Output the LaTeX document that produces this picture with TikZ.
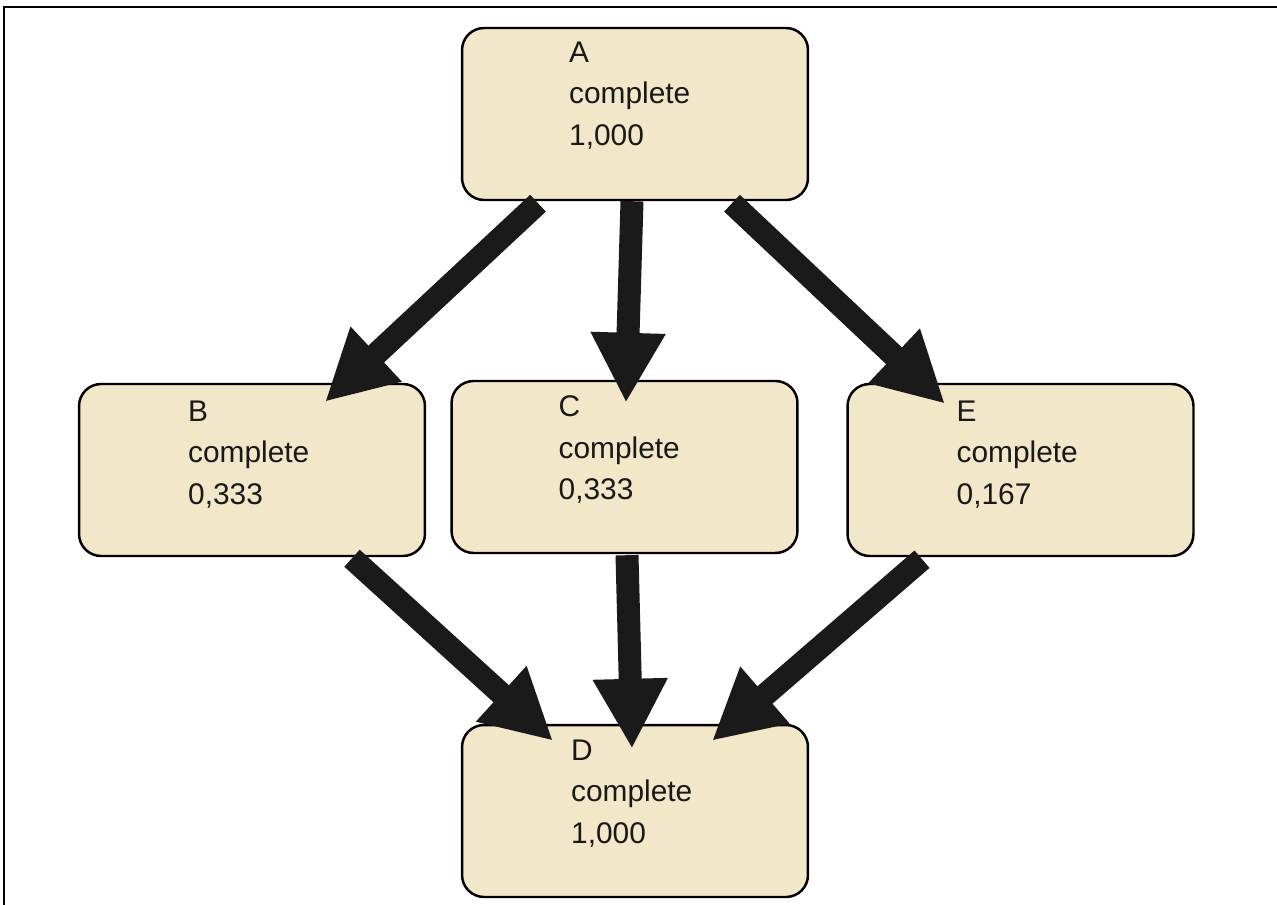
\documentclass[tikz,border=0pt]{standalone}
\usepackage{fontspec}
\setmainfont{Liberation Sans}
\usetikzlibrary{arrows.meta,calc}
\definecolor{boxfill}{RGB}{243,231,201}
\definecolor{flowink}{RGB}{26,26,26}
\tikzset{
  task/.style={draw=black, line width=1.4pt, fill=boxfill, rounded corners=0.44cm,
    minimum width=6.92cm, minimum height=3.44cm, inner sep=0pt},
  tasklabel/.style={anchor=north west, inner sep=0pt, align=left,
    font=\fontsize{17pt}{23.5pt}\selectfont, text=black!90},
  flow/.style={draw=flowink, line width=0.46cm, line cap=butt,
    -{Triangle[width=1.4cm,length=1.4cm]}},
}
\begin{document}
\begin{tikzpicture}[x=0.02cm, y=-0.02cm]
  \useasboundingbox (0,0) rectangle (1277,905);
  % outer frame (top and left edges)
  \draw[line width=1.7pt] (4,905) -- (4,7) -- (1277,7);

  % activity boxes
  \node[task] (A) at (635,114) {};
  \node[task] (B) at (252,470) {};
  \node[task] (C) at (624.5,467) {};
  \node[task] (E) at (1020.5,470) {};
  \node[task] (D) at (635,811) {};

  % box texts
  \node[tasklabel] (At) at ($(A.north west)+(108,15)$) {A\\complete\\1,000};
  \node[tasklabel] (Bt) at ($(B.north west)+(110,18)$) {B\\complete\\0,333};
  \node[tasklabel] (Ct) at ($(C.north west)+(108,16)$) {C\\complete\\0,333};
  \node[tasklabel] (Et) at ($(E.north west)+(110,18)$) {E\\complete\\0,167};
  \node[tasklabel] (Dt) at ($(D.north west)+(110,16)$) {D\\complete\\1,000};

  % precedence arrows
  \draw[flow] ($(A.south)+(-97,2)$) -- ($(B.north)+(73,19)$);
  \draw[flow] ($(A.south)+(-3,0)$) -- ($(C.north)+(1.5,23)$);
  \draw[flow] ($(A.south)+(97,2)$) -- ($(E.north)+(-75.5,21)$);
  \draw[flow] ($(B.south)+(100,1)$) -- ($(D.north)+(-82,17)$);
  \draw[flow] ($(C.south)+(2.5,1)$) -- ($(D.north)+(-3,25)$);
  \draw[flow] ($(E.south)+(-98.5,2)$) -- ($(D.north)+(77,17)$);
\end{tikzpicture}
\end{document}
